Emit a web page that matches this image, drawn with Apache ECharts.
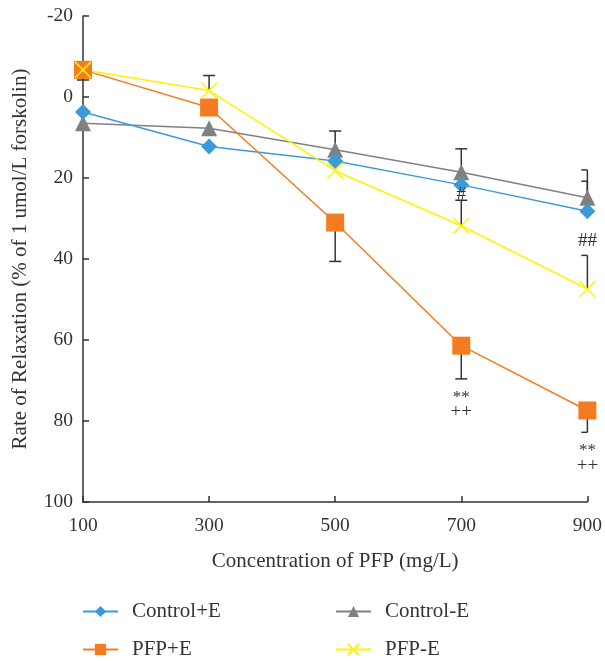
<!DOCTYPE html>
<html>
<head>
<meta charset="utf-8">
<script src="https://cdn.jsdelivr.net/npm/echarts@6/dist/echarts.min.js"></script>
<style>
  html, body { margin: 0; padding: 0; background: #fff; }
  #chart { width: 605px; height: 661px; }
</style>
</head>
<body>
<div id="chart"></div>
<script>
// concentration of PFP (mg/L)
const concentrations = [100, 300, 500, 700, 900]
// rate of relaxation
const controlPlusE = [3.7, 12.2, 15.8, 21.7, 28.2]
const controlMinusE = [6.5, 7.7, 13.0, 18.6, 24.9]
const pfpPlusE = [-6.7, 2.6, 31.0, 61.4, 77.4]
const pfpMinusE = [-6.7, -1.6, 18.2, 31.8, 47.4]

// error bars: [concentration, mean, end of bar]
const errorBars = [
  [100, -6.7, -4.2],
  [300, -1.6, -5.3],
  [500, 13.0, 8.4],
  [500, 31.0, 40.6],
  [700, 18.6, 12.8],
  [700, 31.8, 25.5],
  [700, 61.4, 69.6],
  [900, 24.9, 18.0],
  [900, 28.2, 20.8],
  [900, 47.4, 39.1],
  [900, 77.4, 82.8]
]

// significance marks: [concentration, position, text]
const notes = [
  [700, 24.3, '#'],
  [900, 35.6, '##'],
  [700, 74.3, '**'],
  [700, 77.8, '++'],
  [900, 87.4, '**'],
  [900, 91.0, '++']
]

// legend layout: [name, left, top]
const legendItems = [
  ['Control+E', 82, 601],
  ['Control-E', 335, 601],
  ['PFP+E', 82, 639],
  ['PFP-E', 335, 639]
]

const serif = '"Liberation Serif", "DejaVu Serif", serif'
const axisColor = '#333'

const pairs = vals => concentrations.map((c, i) => [c, vals[i]])

const lineSeries = (name, vals, color, symbol, size) => ({
  name: name,
  type: 'line',
  data: pairs(vals),
  symbol: symbol,
  symbolSize: size,
  lineStyle: { color: color, width: 1.5 },
  itemStyle: { color: color },
  z: 3
})

const crossSymbol = 'path://M0,0L10,10M10,0L0,10'

const chart = echarts.init(document.getElementById('chart'))

const option = {
  animation: false,
  grid: { left: 83, right: 16, top: 16, bottom: 159 },
  xAxis: {
    type: 'value',
    min: 100,
    max: 900,
    interval: 200,
    name: 'Concentration of PFP (mg/L)',
    nameLocation: 'middle',
    nameGap: 49,
    nameTextStyle: { fontFamily: serif, fontSize: 21, color: axisColor },
    axisLine: { onZero: false, lineStyle: { color: axisColor, width: 1.5 } },
    axisTick: { inside: true, length: 6, lineStyle: { color: axisColor, width: 1.5 } },
    axisLabel: { fontFamily: serif, fontSize: 19.5, color: axisColor, margin: 14 },
    splitLine: { show: false }
  },
  yAxis: {
    type: 'value',
    min: -20,
    max: 100,
    interval: 20,
    inverse: true,
    name: 'Rate of Relaxation (% of 1 umol/L forskolin)',
    nameLocation: 'middle',
    nameGap: 52,
    nameTextStyle: { fontFamily: serif, fontSize: 21, color: axisColor },
    axisLine: { show: true, onZero: false, lineStyle: { color: axisColor, width: 1.5 } },
    axisTick: { show: true, inside: true, length: 6, lineStyle: { color: axisColor, width: 1.5 } },
    axisLabel: { fontFamily: serif, fontSize: 19.5, color: axisColor, margin: 10 },
    splitLine: { show: false }
  },
  legend: legendItems.map(item => ({
    data: [item[0]],
    left: item[1],
    top: item[2],
    padding: 0,
    itemWidth: 35,
    itemHeight: 14,
    textStyle: { fontFamily: serif, fontSize: 21, color: axisColor, padding: [0, 0, 0, 9] }
  })),
  series: [
    {
      type: 'custom',
      data: errorBars,
      z: 2,
      silent: true,
      renderItem: (params, api) => {
        const start = api.coord([api.value(0), api.value(1)])
        const end = api.coord([api.value(0), api.value(2)])
        const half = 6
        const rightEdge = params.coordSys.x + params.coordSys.width
        const style = { stroke: '#333', lineWidth: 1.5 }
        return {
          type: 'group',
          children: [
            { type: 'line', shape: { x1: start[0], y1: start[1], x2: end[0], y2: end[1] }, style: style },
            { type: 'line', shape: { x1: end[0] - half, y1: end[1], x2: Math.min(end[0] + half, rightEdge), y2: end[1] }, style: style }
          ]
        }
      }
    },
    lineSeries('Control-E', controlMinusE, '#808080', 'triangle', 16),
    lineSeries('Control+E', controlPlusE, '#3b9bd9', 'diamond', 16),
    lineSeries('PFP+E', pfpPlusE, '#f47c20', 'rect', 18),
    Object.assign(lineSeries('PFP-E', pfpMinusE, '#fff200', crossSymbol, 16), {
      itemStyle: { color: 'rgba(0,0,0,0)', borderColor: '#fff200', borderWidth: 1.5 }
    }),
    {
      type: 'custom',
      data: notes,
      z: 4,
      silent: true,
      renderItem: (params, api) => {
        const p = api.coord([api.value(0), api.value(1)])
        const text = notes[params.dataIndex][2]
        return {
          type: 'text',
          x: p[0],
          y: p[1],
          style: {
            text: text,
            fontFamily: serif,
            fontSize: text === '**' ? 17 : 19,
            fill: '#333',
            align: 'center',
            verticalAlign: 'middle'
          }
        }
      }
    }
  ]
}

chart.setOption(option)
</script>
</body>
</html>
